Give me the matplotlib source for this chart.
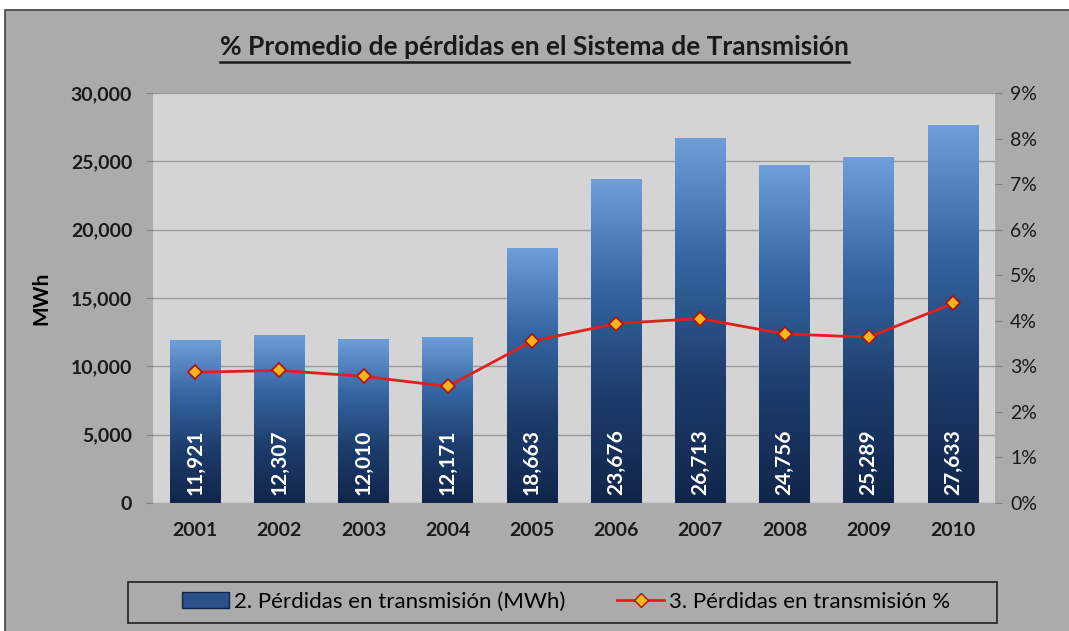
import numpy as np
import matplotlib.pyplot as plt
from matplotlib.patches import Rectangle
from matplotlib.lines import Line2D
from matplotlib.colors import LinearSegmentedColormap

# Datos
anios = ['2001', '2002', '2003', '2004', '2005', '2006', '2007', '2008', '2009', '2010']
perdidas_mwh = [11921, 12307, 12010, 12171, 18663, 23676, 26713, 24756, 25289, 27633]
perdidas_pct = [2.87, 2.91, 2.78, 2.56, 3.55, 3.94, 4.05, 3.71, 3.64, 4.38]

plt.rcParams['font.family'] = ['Lato', 'DejaVu Sans']

W, H = 1069, 631
fig = plt.figure(figsize=(W / 100, H / 100), dpi=100)
fig.patch.set_facecolor('white')
# fondo exterior con borde
fig.patches.append(Rectangle((5 / W, -0.01), 1.02, 1 - 10 / H + 0.01,
                             transform=fig.transFigure, facecolor='#ababab',
                             edgecolor='#404040', linewidth=1.2, zorder=-10))

ax = fig.add_axes([153 / W, 1 - 503 / H, (995 - 153) / W, (503 - 93) / H])
ax.set_facecolor('#d4d4d4')
x = np.arange(len(anios))

# barras con degradado
cmap = LinearSegmentedColormap.from_list('azul', ['#11254a', '#1d3d6c', '#3566a3', '#6f9fd9'])
grad = np.linspace(0, 1, 256).reshape(-1, 1)
bars = ax.bar(x, perdidas_mwh, width=0.6, color='none', edgecolor='none', zorder=2)
for b in bars:
    im = ax.imshow(grad, cmap=cmap, origin='lower', aspect='auto',
                   extent=[b.get_x(), b.get_x() + b.get_width(), 0, b.get_height()], zorder=2)
    im.set_clip_path(b)
    ax.text(b.get_x() + b.get_width() / 2, 600, f'{int(b.get_height()):,}', rotation=90,
            ha='center', va='bottom', color='white', fontsize=15, fontweight='bold', zorder=4)

ax.set_xlim(-0.5, len(anios) - 0.5)
ax.set_ylim(0, 30000)
ax.set_yticks(range(0, 30001, 5000))
ax.set_yticklabels([f'{v:,}' for v in range(0, 30001, 5000)])
ax.grid(axis='y', color='#9a9a9a', linewidth=1, zorder=1)
ax.set_axisbelow(True)
ax.set_xticks(x)
ax.set_xticklabels(anios)
ax.tick_params(axis='x', length=0, pad=14, labelsize=14, colors='#1a1a1a')
ax.tick_params(axis='y', length=5, pad=10, labelsize=14, colors='#1a1a1a', color='#808080')
for lbl in ax.get_xticklabels() + ax.get_yticklabels():
    lbl.set_fontweight('bold')
for s in ax.spines.values():
    s.set_visible(False)
ax.set_ylabel('MWh', fontsize=15, fontweight='bold', labelpad=14)

# eje secundario
ax2 = ax.twinx()
ax2.plot(x, perdidas_pct, color='#e0201c', linewidth=2, marker='D', markersize=7,
         markerfacecolor='#f7b51c', markeredgecolor='#b01010', markeredgewidth=1.2, zorder=5)
ax2.set_ylim(0, 9)
ax2.set_yticks(range(0, 10))
ax2.set_yticklabels([f'{v}%' for v in range(0, 10)])
ax2.tick_params(axis='y', length=5, pad=6, labelsize=14, colors='#1a1a1a', color='#808080')
for s in ax2.spines.values():
    s.set_visible(False)

# titulo subrayado
titulo = fig.text(0.5, 1 - 47 / H, '% Promedio de pérdidas en el Sistema de Transmisión',
                  ha='center', va='center', fontsize=19, fontweight='bold', color='#1a1a1a')
fig.canvas.draw()
bb = titulo.get_window_extent().transformed(fig.transFigure.inverted())
fig.lines.append(Line2D([bb.x0, bb.x1], [bb.y0 - 0.004, bb.y0 - 0.004],
                        transform=fig.transFigure, color='#1a1a1a', linewidth=1.8))

# leyenda: marco propio y entradas sin marco
fig.patches.append(Rectangle((128 / W, 1 - 623 / H), (997 - 128) / W, 41 / H,
                             transform=fig.transFigure, facecolor='#ababab',
                             edgecolor='#202020', linewidth=1.2, zorder=1))
h_bar = Rectangle((0, 0), 1, 1, facecolor='#2a5288', edgecolor='#11254a')
h_line = Line2D([], [], color='#e0201c', linewidth=2, marker='D', markersize=7,
                markerfacecolor='#f7b51c', markeredgecolor='#b01010')
leg = fig.legend([h_bar, h_line], ['2. Pérdidas en transmisión (MWh)', '3. Pérdidas en transmisión %'],
                 loc='center', bbox_to_anchor=(566 / W, 1 - 602 / H), ncol=2,
                 fontsize=16, frameon=False, columnspacing=2.3, handlelength=2.15,
                 handletextpad=0.22, borderaxespad=0)
leg.set_zorder(2)

plt.savefig('out.png', dpi=100)
